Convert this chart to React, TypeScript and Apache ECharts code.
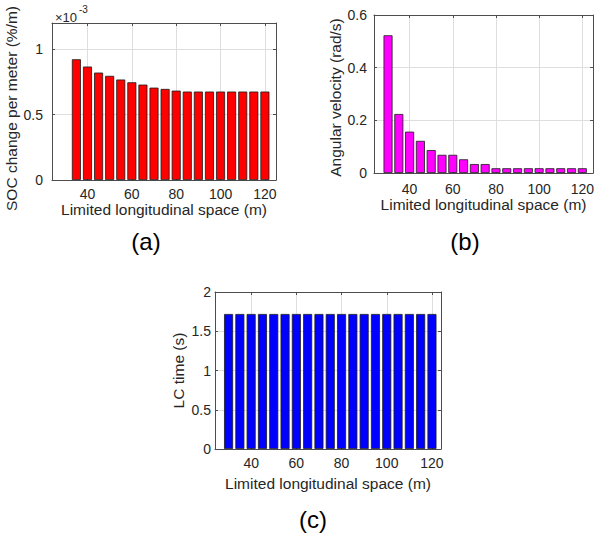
import React, { useEffect, useRef } from "react";
import * as echarts from "echarts";

// ---- data ----
const xTicks = [40, 60, 80, 100, 120];

// (a) SOC change per meter, in units of 1e-3 %/m
const spaceA = [35, 40, 45, 50, 55, 60, 65, 70, 75, 80, 85, 90, 95, 100, 105, 110, 115, 120];
const socChangeE3 = [0.923, 0.867, 0.821, 0.796, 0.768, 0.747, 0.729, 0.706, 0.696, 0.683, 0.676, 0.676, 0.676, 0.676, 0.676, 0.676, 0.676, 0.676];
const socTicks = [0, 0.5, 1];

// (b) Angular velocity (rad/s)
const spaceB = [30, 35, 40, 45, 50, 55, 60, 65, 70, 75, 80, 85, 90, 95, 100, 105, 110, 115, 120];
const angularVelocity = [0.523, 0.224, 0.157, 0.122, 0.087, 0.069, 0.069, 0.052, 0.034, 0.034, 0.018, 0.018, 0.018, 0.018, 0.018, 0.018, 0.018, 0.018, 0.018];
const angTicks = [0, 0.2, 0.4, 0.6];

// (c) LC time (s)
const spaceC = [30, 35, 40, 45, 50, 55, 60, 65, 70, 75, 80, 85, 90, 95, 100, 105, 110, 115, 120];
const lcTime = [1.72, 1.72, 1.72, 1.72, 1.72, 1.72, 1.72, 1.72, 1.72, 1.72, 1.72, 1.72, 1.72, 1.72, 1.72, 1.72, 1.72, 1.72, 1.72];
const lcTicks = [0, 0.5, 1, 1.5, 2];

const xName = "Limited longitudinal space (m)";

// ---- styling ----
const FONT = "'Liberation Sans', Arial, Helvetica, sans-serif";
const AXIS_COLOR = "#4d4d4d";
const TEXT_COLOR = "#262626";
const GRID_COLOR = "#dedede";
const TICK_FONT = 14;
const LABEL_FONT = 15.5;

type Panel = {
  grid: { left: number; top: number; width: number; height: number };
  xMin: number;
  xMax: number;
  yMax: number;
  yTicks: number[];
  yName: string;
  yNameGap: number;
  yNamePad: number;
  yLabelMargin: number;
  xLabelMargin: number;
  xNameGap: number;
  xs: number[];
  ys: number[];
  color: string;
};

const panels: Panel[] = [
  {
    grid: { left: 52, top: 23, width: 224, height: 157 },
    xMin: 24, xMax: 125, yMax: 1.2, yTicks: socTicks,
    yName: "SOC change per meter (%/m)", yNameGap: 28, yNamePad: 14, yLabelMargin: 9,
    xLabelMargin: 7, xNameGap: 19,
    xs: spaceA, ys: socChangeE3, color: "#ff0000",
  },
  {
    grid: { left: 374, top: 15, width: 222, height: 158 },
    xMin: 23.5, xMax: 125, yMax: 0.6, yTicks: angTicks,
    yName: "Angular velocity (rad/s)", yNameGap: 31, yNamePad: 7, yLabelMargin: 7,
    xLabelMargin: 9, xNameGap: 22,
    xs: spaceB, ys: angularVelocity, color: "#ff00ff",
  },
  {
    grid: { left: 215, top: 292, width: 226, height: 157 },
    xMin: 24, xMax: 124, yMax: 2, yTicks: lcTicks,
    yName: "LC time (s)", yNameGap: 29, yNamePad: 0, yLabelMargin: 4,
    xLabelMargin: 7, xNameGap: 26,
    xs: spaceC, ys: lcTime, color: "#0000ff",
  },
];

function fmt(v: number) {
  return String(parseFloat(v.toFixed(4)));
}

function buildOption() {
  const grid: any[] = [];
  const xAxis: any[] = [];
  const yAxis: any[] = [];
  const series: any[] = [];
  const lineStyle = { color: AXIS_COLOR, width: 1 };
  panels.forEach((p, i) => {
    grid.push({ ...p.grid, containLabel: false });
    xAxis.push({
      type: "value", gridIndex: i, position: "bottom", min: p.xMin, max: p.xMax,
      axisLine: { show: true, onZero: false, lineStyle },
      axisTick: { show: true, inside: true, length: 3, customValues: xTicks, lineStyle },
      axisLabel: { show: true, customValues: xTicks, margin: p.xLabelMargin, color: TEXT_COLOR, fontSize: TICK_FONT, fontFamily: FONT, formatter: (v: number) => fmt(v) },
      splitLine: { show: true, lineStyle: { color: GRID_COLOR, width: 1 } },
      name: xName, nameLocation: "middle", nameGap: p.xNameGap,
      nameTextStyle: { color: TEXT_COLOR, fontSize: LABEL_FONT, fontFamily: FONT },
    });
    xAxis.push({
      type: "value", gridIndex: i, position: "top", min: p.xMin, max: p.xMax,
      axisLine: { show: true, onZero: false, lineStyle },
      axisTick: { show: true, inside: true, length: 3, customValues: xTicks, lineStyle },
      axisLabel: { show: false },
      splitLine: { show: false },
    });
    yAxis.push({
      type: "value", gridIndex: i, position: "left", min: 0, max: p.yMax,
      axisLine: { show: true, onZero: false, lineStyle },
      axisTick: { show: true, inside: true, length: 3, customValues: p.yTicks, lineStyle },
      axisLabel: { show: true, customValues: p.yTicks, margin: p.yLabelMargin, color: TEXT_COLOR, fontSize: TICK_FONT, fontFamily: FONT, formatter: (v: number) => fmt(v) },
      splitLine: { show: true, lineStyle: { color: GRID_COLOR, width: 1 } },
      name: p.yName, nameLocation: "middle", nameGap: p.yNameGap,
      nameTextStyle: { color: TEXT_COLOR, fontSize: LABEL_FONT, fontFamily: FONT, padding: [0, p.yNamePad, 0, 0] },
    });
    yAxis.push({
      type: "value", gridIndex: i, position: "right", min: 0, max: p.yMax,
      axisLine: { show: true, onZero: false, lineStyle },
      axisTick: { show: true, inside: true, length: 3, customValues: p.yTicks, lineStyle },
      axisLabel: { show: false },
      splitLine: { show: false },
    });
    series.push({
      type: "bar",
      xAxisIndex: i * 2,
      yAxisIndex: i * 2,
      barWidth: 9,
      data: p.xs.map((x, k) => [x, p.ys[k]]),
      itemStyle: { color: p.color, borderColor: "#1a1a1a", borderWidth: 0.8 },
      emphasis: { disabled: true },
    });
  });

  const caption = (text: string, x: number, y: number) => ({
    type: "text", x, y,
    style: { text, fill: "#000", fontSize: 24, fontFamily: FONT, align: "center", verticalAlign: "middle" },
  });

  return {
    animation: false,
    backgroundColor: "#ffffff",
    grid, xAxis, yAxis, series,
    graphic: [
      { type: "text", x: 55, y: 17, style: { text: "×10", fill: TEXT_COLOR, fontSize: 13, fontFamily: FONT, align: "left", verticalAlign: "middle" } },
      { type: "text", x: 79, y: 9, style: { text: "-3", fill: TEXT_COLOR, fontSize: 10, fontFamily: FONT, align: "left", verticalAlign: "middle" } },
      caption("(a)", 146, 241),
      caption("(b)", 465, 241),
      caption("(c)", 313, 519),
    ],
  };
}

export default function App() {
  const ref = useRef<HTMLDivElement>(null);
  useEffect(() => {
    if (!ref.current) return;
    const chart = echarts.init(ref.current, undefined, { renderer: "svg" });
    chart.setOption(buildOption() as any);
    return () => chart.dispose();
  }, []);
  return (
    <div
      ref={ref}
      style={{ position: "absolute", left: 0, top: 0, width: 597, height: 540, background: "#fff" }}
    />
  );
}
